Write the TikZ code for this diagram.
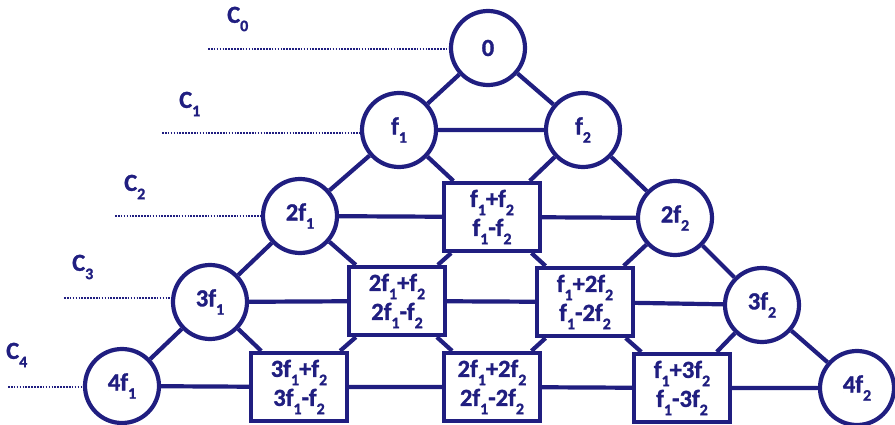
\documentclass[tikz,border=0pt]{standalone}
\usepackage{fontspec}
\setmainfont{Carlito}[BoldFont={Carlito Bold},BoldFeatures={FakeBold=1.3}]
\definecolor{navy}{RGB}{32,30,128}
\newcommand\dn[1]{\raisebox{-0.7ex}{\fontsize{16}{16}\selectfont\bfseries #1}}
\begin{document}
\begin{tikzpicture}[x=1pt,y=-1pt,
  every node/.style={text=navy,font=\fontsize{24.5}{29}\selectfont\bfseries},
  circ/.style={circle,draw=navy,line width=4.2pt,minimum size=74pt,inner sep=0pt,fill=white},
  bx/.style={rectangle,draw=navy,line width=4.2pt,minimum width=96pt,minimum height=68pt,inner sep=0pt,fill=white,align=center},
  edge/.style={draw=navy,line width=4.2pt},
  dots/.style={draw=navy,line width=2pt,dash pattern=on 1.6pt off 1.3pt},
  lab/.style={anchor=west,inner sep=0pt}]
\useasboundingbox (0,0) rectangle (895,425);
% nodes
\node[circ] (n0) at (488,48) {0};
\node[circ] (f1) at (399,130) {f\dn{1}};
\node[circ] (f2) at (583,130) {f\dn{2}};
\node[circ] (a2) at (300,216) {2f\dn{1}};
\node[bx]   (b11) at (492,217) {f\dn{1}+f\dn{2}\\f\dn{1}-f\dn{2}};
\node[circ] (c2) at (675,218) {2f\dn{2}};
\node[circ] (a3) at (210,302) {3f\dn{1}};
\node[bx]   (b21) at (397,301) {2f\dn{1}+f\dn{2}\\2f\dn{1}-f\dn{2}};
\node[bx]   (b12) at (585,302) {f\dn{1}+2f\dn{2}\\f\dn{1}-2f\dn{2}};
\node[circ] (c3) at (762,305) {3f\dn{2}};
\node[circ] (a4) at (122,386) {4f\dn{1}};
\node[bx]   (b31) at (299,387) {3f\dn{1}+f\dn{2}\\3f\dn{1}-f\dn{2}};
\node[bx]   (b22) at (492,387) {2f\dn{1}+2f\dn{2}\\2f\dn{1}-2f\dn{2}};
\node[bx]   (b13) at (682,388) {f\dn{1}+3f\dn{2}\\f\dn{1}-3f\dn{2}};
\node[circ] (c4) at (857,388) {4f\dn{2}};
% edges
\path[edge]
  (n0) -- (f1) (n0) -- (f2) (f1) -- (f2)
  (f1) -- (a2) (f1) -- (b11) (f2) -- (b11) (f2) -- (c2)
  (a2) -- (b11) (b11) -- (c2)
  (a2) -- (a3) (a2) -- (b21) (b11) -- (b21) (b11) -- (b12) (c2) -- (b12) (c2) -- (c3)
  (a3) -- (b21) (b21) -- (b12) (b12) -- (c3)
  (a3) -- (a4) (a3) -- (b31) (b21) -- (b31) (b21) -- (b22) (b12) -- (b22) (b12) -- (b13) (c3) -- (b13) (c3) -- (c4)
  (a4) -- (b31) (b31) -- (b22) (b22) -- (b13) (b13) -- (c4);
% dotted level lines
\coordinate (d0) at (208,49);
\coordinate (d1) at (162,133);
\coordinate (d2) at (115,216);
\coordinate (d3) at (64,298);
\coordinate (d4) at (8,387);
\path[dots] (d0) -- (n0.west|-d0);
\path[dots] (d1) -- (f1.west|-d1);
\path[dots] (d2) -- (a2.west|-d2);
\path[dots] (d3) -- (a3.west|-d3);
\path[dots] (d4) -- (a4.west|-d4);
% labels
\node[lab] (l0) at (227,19) {C\dn{0}};
\node[lab] (l1) at (179,104) {C\dn{1}};
\node[lab] (l2) at (124,187) {C\dn{2}};
\node[lab] (l3) at (72,267) {C\dn{3}};
\node[lab] (l4) at (6,355) {C\dn{4}};
\end{tikzpicture}
\end{document}
